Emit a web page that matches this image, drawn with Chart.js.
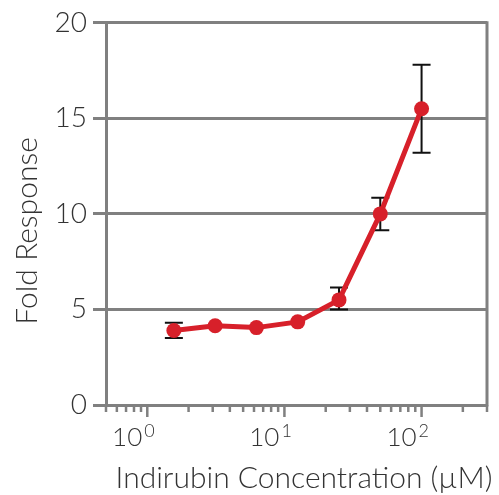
<!DOCTYPE html>
<html>
<head>
<meta charset="utf-8">
<script src="https://cdn.jsdelivr.net/npm/chart.js@4.4.1/dist/chart.umd.min.js"></script>
<style>
  html, body { margin: 0; padding: 0; background: #fff; }
  #wrap { width: 499px; height: 495px; }
</style>
</head>
<body>
<div id="wrap"><canvas id="chart"></canvas></div>
<script>
// values
const concentration = [1.5625, 3.125, 6.25, 12.5, 25, 50, 100];
const foldResponse = [3.9, 4.15, 4.05, 4.35, 5.5, 10.0, 15.5];
const errorHigh = [4.3, null, null, null, 6.15, 10.85, 17.8];
const errorLow = [3.5, null, null, null, 5.0, 9.15, 13.2];

// axis ticks
const yTicks = [0, 5, 10, 15, 20];
const xMinorTicks = [0.5, 0.6, 0.7, 0.8, 0.9, 2, 3, 4, 5, 6, 7, 8, 9,
    20, 30, 40, 50, 60, 70, 80, 90, 200, 300];
const xMajorTicks = [1, 10, 100];

const GRAY = "#808080";
const TEXT = "#333333";
const RED = "#d7202a";

// error bars, drawn under the line
const errorBars = {
    id: "errorBars",
    beforeDatasetsDraw(chart) {
        const ctx = chart.ctx;
        const x = chart.scales.x, y = chart.scales.y;
        ctx.save();
        ctx.strokeStyle = "#111";
        ctx.lineWidth = 2;
        concentration.forEach((c, i) => {
            if (errorHigh[i] == null) return;
            const px = x.getPixelForValue(c);
            const top = y.getPixelForValue(errorHigh[i]);
            const bot = y.getPixelForValue(errorLow[i]);
            ctx.beginPath();
            ctx.moveTo(px, top); ctx.lineTo(px, bot);
            ctx.moveTo(px - 9, top); ctx.lineTo(px + 9, top);
            ctx.moveTo(px - 9, bot); ctx.lineTo(px + 9, bot);
            ctx.stroke();
        });
        ctx.restore();
    }
};

// log ticks, 10^n labels, right frame and axis titles
const axisDecor = {
    id: "axisDecor",
    afterDraw(chart) {
        const ctx = chart.ctx;
        const x = chart.scales.x;
        const area = chart.chartArea;
        ctx.save();
        ctx.strokeStyle = GRAY;
        ctx.lineWidth = 3;
        ctx.beginPath();
        ctx.moveTo(area.right, area.top - 1.5);
        ctx.lineTo(area.right, area.bottom + 1.5);
        ctx.stroke();

        ctx.lineWidth = 2.5;
        ctx.beginPath();
        xMinorTicks.forEach(v => {
            const px = x.getPixelForValue(v);
            ctx.moveTo(px, area.bottom); ctx.lineTo(px, area.bottom + 7);
        });
        xMajorTicks.forEach(v => {
            const px = x.getPixelForValue(v);
            ctx.moveTo(px, area.bottom); ctx.lineTo(px, area.bottom + 12);
        });
        ctx.stroke();

        ctx.fillStyle = TEXT;
        ctx.textBaseline = "alphabetic";
        xMajorTicks.forEach(v => {
            const px = x.getPixelForValue(v);
            ctx.font = "300 26px Lato";
            ctx.textAlign = "right";
            ctx.fillText("10", px - 5, 446);
            ctx.font = "300 18px Lato";
            ctx.textAlign = "left";
            ctx.fillText(String(Math.round(Math.log10(v))), px - 3, 437);
        });

        ctx.font = "300 30px Lato";
        ctx.textAlign = "center";
        ctx.fillText("Indirubin Concentration (\u00b5M)", 304, 488);

        ctx.translate(37, 231);
        ctx.rotate(-Math.PI / 2);
        ctx.fillText("Fold Response", 0, 0);
        ctx.restore();
    }
};

new Chart(document.getElementById("chart"), {
    type: "line",
    data: {
        datasets: [{
            data: concentration.map((c, i) => ({ x: c, y: foldResponse[i] })),
            borderColor: RED,
            backgroundColor: RED,
            borderWidth: 5,
            pointRadius: 7.5,
            pointHoverRadius: 7.5,
            pointBorderWidth: 0,
            tension: 0
        }]
    },
    options: {
        responsive: true,
        maintainAspectRatio: false,
        animation: false,
        events: [],
        layout: { padding: { top: 22, right: 12, left: 0, bottom: 0 } },
        plugins: { legend: { display: false }, tooltip: { enabled: false } },
        scales: {
            x: {
                type: "logarithmic",
                min: 0.5,
                max: 300,
                grid: { display: false },
                border: { display: true, color: GRAY, width: 3 },
                ticks: { display: false },
                afterFit: s => { s.height = 90; }
            },
            y: {
                min: 0,
                max: 20,
                afterBuildTicks: s => { s.ticks = yTicks.map(v => ({ value: v })); },
                grid: { color: GRAY, lineWidth: 3, tickLength: 13, tickColor: GRAY },
                border: { display: true, color: GRAY, width: 3 },
                ticks: {
                    color: TEXT,
                    padding: 6,
                    font: { family: "Lato", size: 28, weight: "300" }
                },
                afterFit: s => { s.width = 106; }
            }
        }
    },
    plugins: [errorBars, axisDecor]
});
</script>
</body>
</html>
